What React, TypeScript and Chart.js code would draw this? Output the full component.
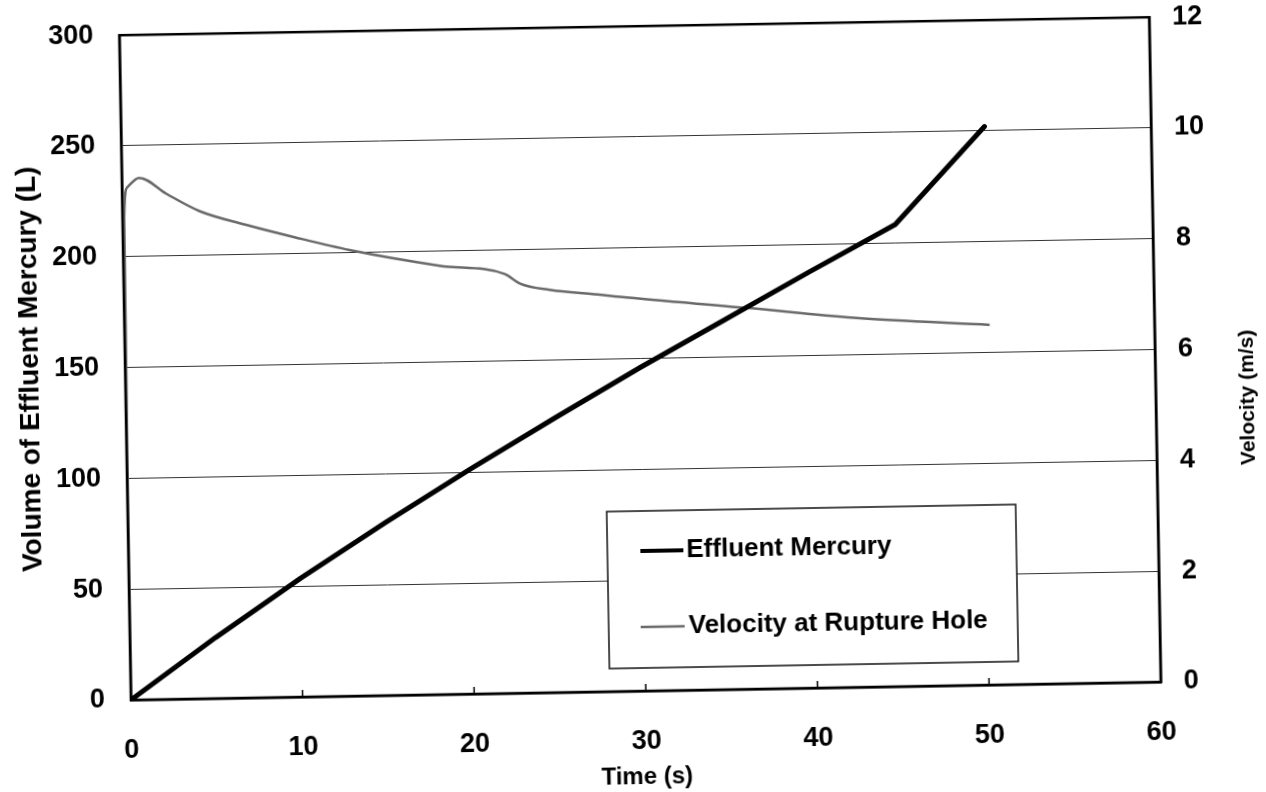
import React, { useEffect, useRef } from "react";
import { Chart, registerables } from "chart.js";

Chart.register(...registerables);

// ---- data ----
const timeMercury = [0, 5, 10, 15, 20, 25, 30, 35, 40, 45, 50.3];
const volumeMercury = [0, 27.5, 53.5, 78, 101.5, 124, 146, 167, 188, 208.5, 252];

const timeVelocity = [0, 0.1, 0.3, 1, 2.6, 4.5, 7.4, 10, 13.2, 18.4, 22.2, 23.1, 24.8, 27.6, 28.9, 36.3, 42.5, 50.4];
const velocity = [0, 8.7, 9.25, 9.42, 9.12, 8.8, 8.52, 8.3, 8.05, 7.74, 7.57, 7.39, 7.27, 7.17, 7.12, 6.88, 6.67, 6.5];

const xTickValues = [0, 10, 20, 30, 40, 50, 60];
const yTickValues = [0, 50, 100, 150, 200, 250, 300];
const y1TickValues = [0, 2, 4, 6, 8, 10, 12];

const seriesNames = ["Effluent Mercury", "Velocity at Rupture Hole"];
const axisTitles = { x: "Time (s)", y: "Volume of Effluent Mercury (L)", y1: "Velocity (m/s)" };

const FONT = "'Liberation Sans', Arial, Helvetica, sans-serif";
const MERCURY_COLOR = "#000000";
const VELOCITY_COLOR = "#6a6a6a";
const SHIFT = 16; // canvas extends above the page by this much

const framePlugin = {
  id: "frameAndLegend",
  afterDatasetsDraw(chart: any) {
    const { ctx, chartArea: a, scales } = chart;
    ctx.save();
    // legend box (white, covers gridlines)
    const bx = 604, by = 511 + SHIFT, bw = 409, bh = 157;
    ctx.fillStyle = "#fff";
    ctx.fillRect(bx, by, bw, bh);
    ctx.strokeStyle = "#111";
    ctx.lineWidth = 1.5;
    ctx.strokeRect(bx, by, bw, bh);

    ctx.lineCap = "butt";
    ctx.strokeStyle = MERCURY_COLOR;
    ctx.lineWidth = 4;
    ctx.beginPath();
    ctx.moveTo(637, 551 + SHIFT);
    ctx.lineTo(680, 551 + SHIFT);
    ctx.stroke();

    ctx.strokeStyle = VELOCITY_COLOR;
    ctx.lineWidth = 2.5;
    ctx.beginPath();
    ctx.moveTo(636, 627 + SHIFT);
    ctx.lineTo(680, 627 + SHIFT);
    ctx.stroke();

    ctx.fillStyle = "#000";
    ctx.font = `bold 26px ${FONT}`;
    ctx.textBaseline = "middle";
    ctx.textAlign = "left";
    ctx.fillText(seriesNames[0], 683, 551 + SHIFT);
    ctx.fillText(seriesNames[1], 684, 627 + SHIFT);

    // frame
    ctx.strokeStyle = "#000";
    ctx.lineWidth = 2.5;
    ctx.strokeRect(a.left, a.top, a.right - a.left, a.bottom - a.top);

    // inner x ticks
    ctx.lineWidth = 1.5;
    for (const v of xTickValues) {
      const px = scales.x.getPixelForValue(v);
      ctx.beginPath();
      ctx.moveTo(px, a.bottom);
      ctx.lineTo(px, a.bottom - 7);
      ctx.stroke();
    }

    // right axis title, reading bottom-to-top
    ctx.save();
    ctx.translate(1247, 408 + SHIFT);
    ctx.rotate(-Math.PI / 2);
    ctx.font = `bold 21px ${FONT}`;
    ctx.textAlign = "center";
    ctx.textBaseline = "middle";
    ctx.fillText(axisTitles.y1, 0, 0);
    ctx.restore();

    ctx.restore();
  },
};

export default function App() {
  const canvasRef = useRef<HTMLCanvasElement | null>(null);

  useEffect(() => {
    if (!canvasRef.current) return;
    const chart = new Chart(canvasRef.current, {
      type: "line",
      data: {
        datasets: [
          {
            label: seriesNames[0],
            data: timeMercury.map((t, i) => ({ x: t, y: volumeMercury[i] })),
            borderColor: MERCURY_COLOR,
            borderWidth: 5,
            pointRadius: 0,
            tension: 0,
            yAxisID: "y",
            borderCapStyle: "round",
            borderJoinStyle: "round",
          },
          {
            label: seriesNames[1],
            data: timeVelocity.map((t, i) => ({ x: t, y: velocity[i] })),
            borderColor: VELOCITY_COLOR,
            borderWidth: 2.5,
            pointRadius: 0,
            cubicInterpolationMode: "monotone",
            yAxisID: "y1",
          },
        ],
      },
      options: {
        animation: false,
        responsive: true,
        maintainAspectRatio: false,
        layout: { padding: { top: 9, left: 0, right: 0, bottom: 0 } },
        plugins: { legend: { display: false }, tooltip: { enabled: false } },
        scales: {
          x: {
            type: "linear",
            min: 0,
            max: 60,
            afterBuildTicks: (s: any) => {
              s.ticks = xTickValues.map((v) => ({ value: v }));
            },
            afterFit: (s: any) => {
              s.height = 101;
            },
            grid: { display: false },
            border: { display: true, color: "#000", width: 2.5 },
            ticks: { color: "#000", font: { family: FONT, size: 27, weight: "bold" }, padding: 26, maxRotation: 0 },
            title: {
              display: true,
              text: axisTitles.x,
              color: "#000",
              font: { family: FONT, size: 24, weight: "bold" },
              padding: { top: 0, bottom: 0 },
            },
          },
          y: {
            type: "linear",
            position: "left",
            min: 0,
            max: 300,
            afterBuildTicks: (s: any) => {
              s.ticks = yTickValues.map((v) => ({ value: v }));
            },
            afterFit: (s: any) => {
              s.width = 125;
            },
            grid: { color: "#333", lineWidth: 1, drawTicks: false },
            border: { display: true, color: "#000", width: 2.5 },
            ticks: { color: "#000", font: { family: FONT, size: 27, weight: "bold" }, padding: 26 },
            title: {
              display: true,
              text: axisTitles.y,
              color: "#000",
              font: { family: FONT, size: 28, weight: "bold" },
              padding: { top: 13, bottom: 0 },
            },
          },
          y1: {
            type: "linear",
            position: "right",
            min: 0,
            max: 12,
            afterBuildTicks: (s: any) => {
              s.ticks = y1TickValues.map((v) => ({ value: v }));
            },
            afterFit: (s: any) => {
              s.width = 111;
            },
            grid: { drawOnChartArea: false, drawTicks: false },
            border: { display: true, color: "#000", width: 2.5 },
            ticks: { color: "#000", font: { family: FONT, size: 27, weight: "bold" }, padding: 23 },
            title: { display: false },
          },
        },
      },
      plugins: [framePlugin],
    } as any);
    return () => chart.destroy();
  }, []);

  return (
    <div
      style={{
        position: "fixed",
        left: 0,
        top: -SHIFT,
        width: 1266,
        height: 792 + SHIFT,
        background: "#fff",
        transform: "rotate(-1deg)",
        transformOrigin: `640px ${358 + SHIFT}px`,
      }}
    >
      <canvas ref={canvasRef} />
    </div>
  );
}
